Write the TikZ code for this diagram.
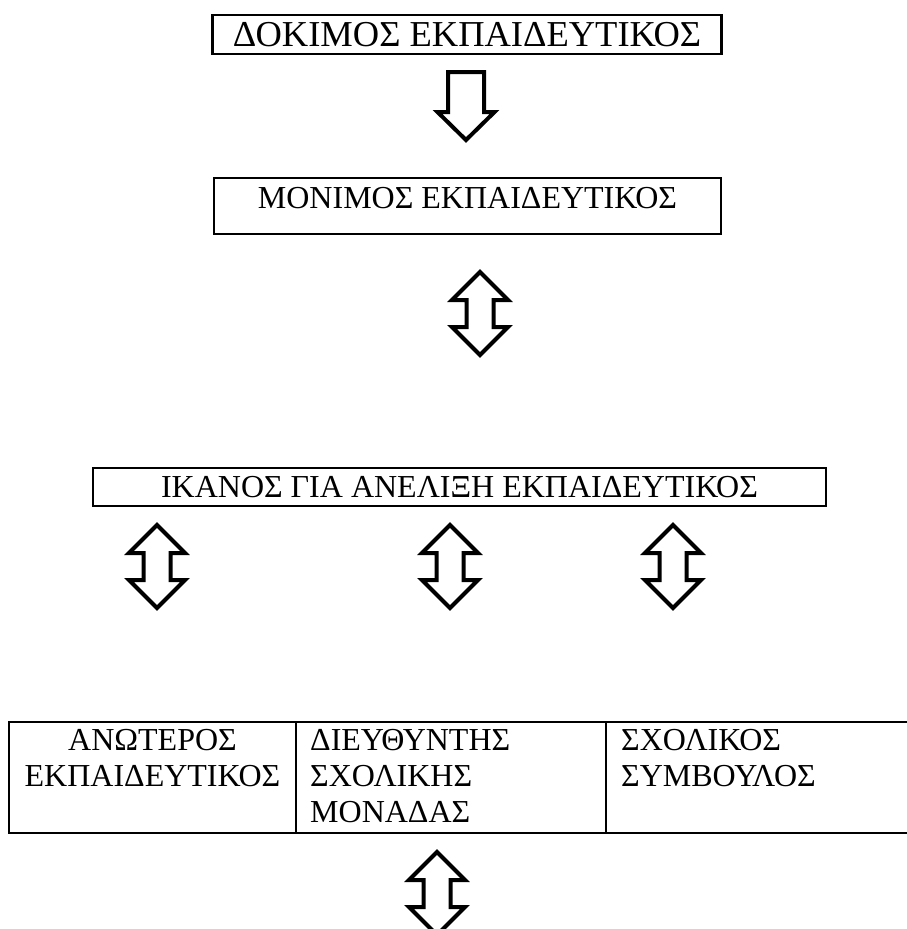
\documentclass[tikz,border=0pt]{standalone}
\usepackage{fontspec}
\setmainfont{Liberation Serif}
\begin{document}
\begin{tikzpicture}[x=1pt,y=-1pt,
  txt/.style={font=\fontsize{32}{36}\selectfont, inner sep=0pt},
  bigtxt/.style={font=\fontsize{36.5}{40}\selectfont, inner sep=0pt},
  boxline/.style={draw, line width=2.7pt},
  tableline/.style={line width=2.7pt},
  blockarrow/.style={draw, line width=4pt, line join=miter, fill=white},
  downarrow/.pic={\draw[blockarrow] (-18,0) -- (18,0) -- (18,40) -- (28.5,40) -- (0,68) -- (-28.5,40) -- (-18,40) -- cycle;},
  updown/.pic={\draw[blockarrow] (0,0) -- (28,28) -- (13.5,28) -- (13.5,55) -- (28,55) -- (0,83) -- (-28,55) -- (-13.5,55) -- (-13.5,28) -- (-28,28) -- cycle;}
]
\useasboundingbox (0,0) rectangle (907,929);
\clip (0,0) rectangle (907,929);

% box 1
\node[boxline, bigtxt, minimum width=509pt, minimum height=39pt] (b1) at (467,34.5) {ΔΟΚΙΜΟΣ ΕΚΠΑΙΔΕΥΤΙΚΟΣ};
\pic (a1) at (466,72) {downarrow};

% box 2
\node[boxline, minimum width=507pt, minimum height=56pt, inner sep=0pt] (b2) at (467.5,206) {};
\node[txt, anchor=base] (t2) at (467.5,208) {ΜΟΝΙΜΟΣ ΕΚΠΑΙΔΕΥΤΙΚΟΣ};
\pic (a2) at (480,272) {updown};

% box 3
\node[boxline, txt, minimum width=733pt, minimum height=38pt] (b3) at (459.5,487) {ΙΚΑΝΟΣ ΓΙΑ ΑΝΕΛΙΞΗ ΕΚΠΑΙΔΕΥΤΙΚΟΣ};
\pic (a3) at (157,525) {updown};
\pic (a4) at (450,525) {updown};
\pic (a5) at (673,525) {updown};

% table
\coordinate (tl) at (9,722);
\coordinate (br) at (912,833);
\coordinate (c1t) at (296,722);
\coordinate (c1b) at (296,833);
\coordinate (c2t) at (606,722);
\coordinate (c2b) at (606,833);
\draw[tableline] (tl) rectangle (br);
\draw[tableline] (c1t) -- (c1b);
\draw[tableline] (c2t) -- (c2b);

\node[txt, anchor=base] (l1) at (152.5,750) {ΑΝΩΤΕΡΟΣ};
\node[txt, anchor=base] (l2) at (152.5,786) {ΕΚΠΑΙΔΕΥΤΙΚΟΣ};
\node[txt, anchor=base west] (m1) at (310,750) {ΔΙΕΥΘΥΝΤΗΣ};
\node[txt, anchor=base west] (m2) at (310,786) {ΣΧΟΛΙΚΗΣ};
\node[txt, anchor=base west] (m3) at (310,822) {ΜΟΝΑΔΑΣ};
\node[txt, anchor=base west] (r1) at (621,750) {ΣΧΟΛΙΚΟΣ};
\node[txt, anchor=base west] (r2) at (621,786) {ΣΥΜΒΟΥΛΟΣ};

\pic (a6) at (437,852) {updown};
\end{tikzpicture}
\end{document}
